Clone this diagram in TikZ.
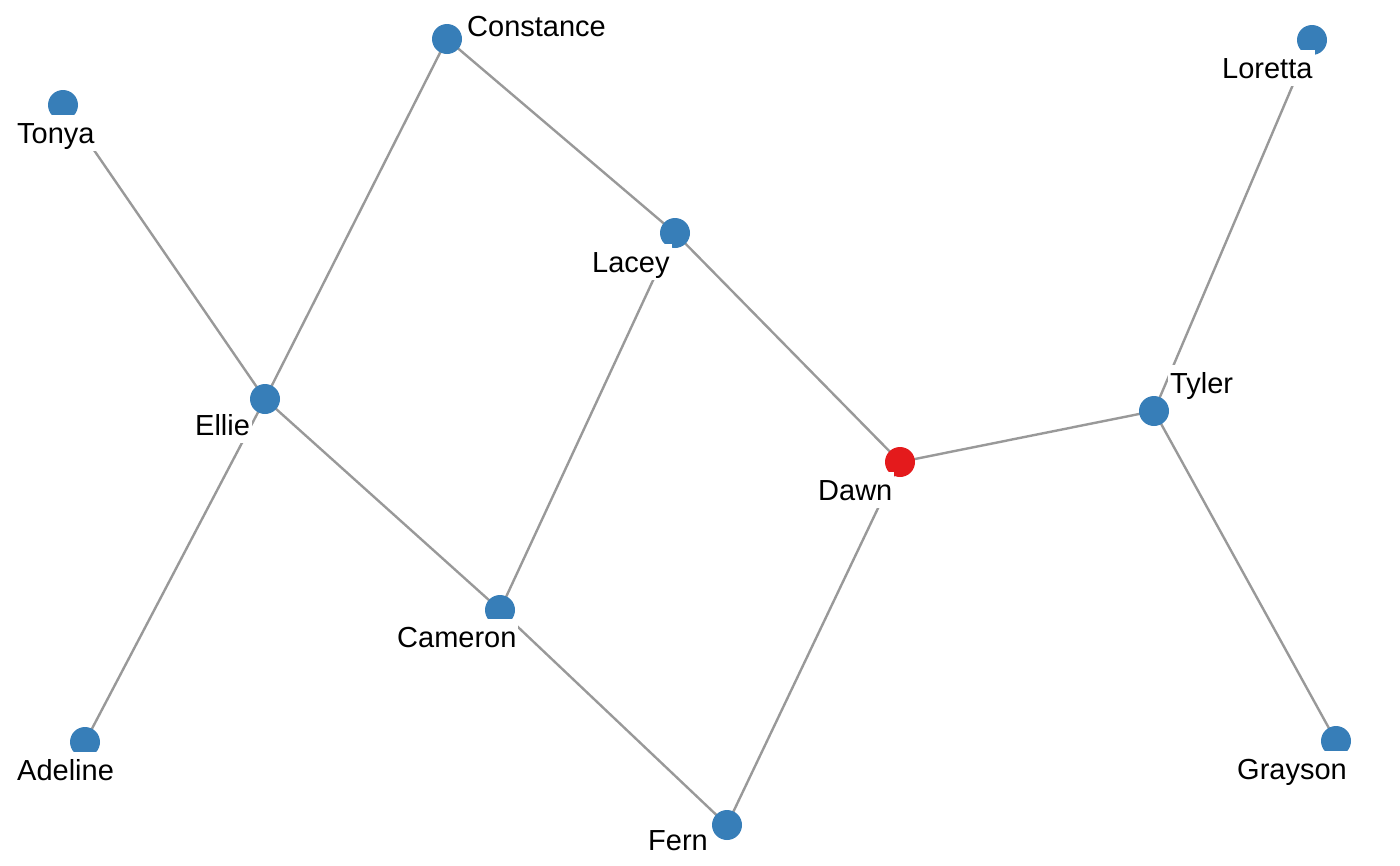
\documentclass[tikz,border=0pt]{standalone}
\usepackage{fontspec}
\setmainfont{Liberation Sans}
\definecolor{edgegray}{HTML}{999999}
\definecolor{dotblue}{HTML}{377EB8}
\definecolor{dotred}{HTML}{E41A1C}
\begin{document}
\begin{tikzpicture}[x=1pt,y=-1pt,
  vtx/.style={circle,fill=dotblue,draw=none,minimum size=30pt,inner sep=0pt},
  vtxred/.style={vtx,fill=dotred},
  lbl/.style={anchor=base west,fill=white,inner xsep=2pt,inner ysep=2pt,
    text height=26pt,text depth=6pt,font=\fontsize{29}{34}\selectfont},
  edge/.style={draw=edgegray,line width=2.4pt}]
\useasboundingbox (0,0) rectangle (1400,865);
% vertex positions
\coordinate (constance) at (447,39);
\coordinate (tonya) at (63,105);
\coordinate (lacey) at (675,233);
\coordinate (ellie) at (265,399);
\coordinate (tyler) at (1154,411);
\coordinate (dawn) at (900,462);
\coordinate (cameron) at (500,610);
\coordinate (adeline) at (85,742);
\coordinate (grayson) at (1336,741);
\coordinate (loretta) at (1312,40);
\coordinate (fern) at (727,825);
% edges
\path[edge] (tonya) -- (ellie);
\path[edge] (constance) -- (ellie);
\path[edge] (constance) -- (lacey);
\path[edge] (ellie) -- (adeline);
\path[edge] (ellie) -- (cameron);
\path[edge] (lacey) -- (cameron);
\path[edge] (lacey) -- (dawn);
\path[edge] (cameron) -- (fern);
\path[edge] (fern) -- (dawn);
\path[edge] (dawn) -- (tyler);
\path[edge] (tyler) -- (loretta);
\path[edge] (tyler) -- (grayson);
% vertices
\node[vtx] (vconstance) at (constance) {};
\node[vtx] (vtonya) at (tonya) {};
\node[vtx] (vlacey) at (lacey) {};
\node[vtx] (vellie) at (ellie) {};
\node[vtx] (vtyler) at (tyler) {};
\node[vtxred] (vdawn) at (dawn) {};
\node[vtx] (vcameron) at (cameron) {};
\node[vtx] (vadeline) at (adeline) {};
\node[vtx] (vgrayson) at (grayson) {};
\node[vtx] (vloretta) at (loretta) {};
\node[vtx] (vfern) at (fern) {};
% labels
\node[lbl] (lconstance) at (465,36) {Constance};
\node[lbl] (ltonya) at (15,143) {Tonya};
\node[lbl] (llacey) at (590,272) {Lacey};
\node[lbl] (lellie) at (193,435) {Ellie};
\node[lbl] (ltyler) at (1168,393) {Tyler};
\node[lbl] (ldawn) at (816,500) {Dawn};
\node[lbl] (lcameron) at (395,647) {Cameron};
\node[lbl] (ladeline) at (15,780) {Adeline};
\node[lbl] (lgrayson) at (1235,779) {Grayson};
\node[lbl] (lloretta) at (1220,78) {Loretta};
\node[lbl] (lfern) at (646,850) {Fern};
\end{tikzpicture}
\end{document}
